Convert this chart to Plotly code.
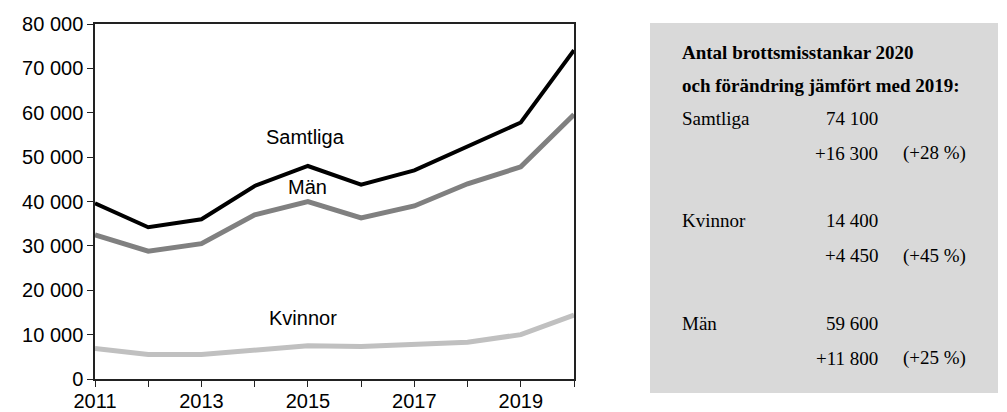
import plotly.graph_objects as go

# Data
years = [2011, 2012, 2013, 2014, 2015, 2016, 2017, 2018, 2019, 2020]
samtliga = [39600, 34200, 36000, 43500, 48000, 43800, 47000, 52300, 57800, 74100]
man = [32500, 28800, 30500, 37000, 40000, 36300, 39000, 44000, 47800, 59600]
kvinnor = [6900, 5500, 5500, 6400, 7500, 7300, 7800, 8300, 10000, 14400]

y_tickvals = [0, 10000, 20000, 30000, 40000, 50000, 60000, 70000, 80000]
y_ticktext = ["0", "10 000", "20 000", "30 000", "40 000", "50 000", "60 000", "70 000", "80 000"]
x_ticktext = ["2011", "", "2013", "", "2015", "", "2017", "", "2019", ""]

box_title = ["Antal brottsmisstankar 2020", "och förändring jämfört med 2019:"]
box_groups = ["Samtliga", "Kvinnor", "Män"]
box_values = ["74 100", "14 400", "59 600"]
box_changes = ["+16 300", "+4 450", "+11 800"]
box_pct = ["(+28 %)", "(+45 %)", "(+25 %)"]

# the page body adds an 8px margin, so the figure is made smaller to fit the window
OFF = 8
W, H = 1007 - OFF, 412 - OFF
L, R, T, B = 95 - OFF, 574 - OFF, 24 - OFF, 379 - OFF


def px2paper(px, py):
    # px, py given in window pixels
    px, py = px - OFF, py - OFF
    return (px - L) / (R - L), (B - py) / (B - T)


fig = go.Figure()
fig.add_trace(go.Scatter(x=years, y=kvinnor, mode="lines", line=dict(color="#c0c0c0", width=5)))
fig.add_trace(go.Scatter(x=years, y=man, mode="lines", line=dict(color="#808080", width=5)))
fig.add_trace(go.Scatter(x=years, y=samtliga, mode="lines", line=dict(color="#000000", width=4)))

sans = dict(family="Liberation Sans, Arial", size=20, color="#000")
fig.add_annotation(x=2014.95, y=54500, text="Samtliga", showarrow=False, font=sans)
fig.add_annotation(x=2015.0, y=43300, text="Män", showarrow=False, font=sans)
fig.add_annotation(x=2014.9, y=13700, text="Kvinnor", showarrow=False, font=sans)

# grey info box
x0, y0 = px2paper(650, 23)
x1, y1 = px2paper(998, 393)
fig.add_shape(type="rect", xref="paper", yref="paper", x0=x0, y0=y1, x1=x1, y1=y0,
              fillcolor="#d9d9d9", line=dict(width=0), layer="below")

serif = dict(family="Liberation Serif, Times New Roman, serif", size=19, color="#000")
for i, line in enumerate(box_title):
    ax, ay = px2paper(680, 52 + 33 * i)
    fig.add_annotation(xref="paper", yref="paper", x=ax, y=ay, text="<b>" + line + "</b>",
                       showarrow=False, xanchor="left", yanchor="middle", font=serif)

for i, g in enumerate(box_groups):
    ry = 118 + 102.5 * i
    ax, ay = px2paper(680, ry)
    fig.add_annotation(xref="paper", yref="paper", x=ax, y=ay, text=g, showarrow=False,
                       xanchor="left", yanchor="middle", font=serif)
    ax, ay = px2paper(880, ry)
    fig.add_annotation(xref="paper", yref="paper", x=ax, y=ay, text=box_values[i], showarrow=False,
                       xanchor="right", yanchor="middle", font=serif)
    ax, ay = px2paper(880, ry + 35)
    fig.add_annotation(xref="paper", yref="paper", x=ax, y=ay, text=box_changes[i], showarrow=False,
                       xanchor="right", yanchor="middle", font=serif)
    ax, ay = px2paper(968, ry + 35)
    fig.add_annotation(xref="paper", yref="paper", x=ax, y=ay, text=box_pct[i], showarrow=False,
                       xanchor="right", yanchor="middle", font=serif)

fig.update_layout(
    width=W, height=H,
    margin=dict(l=L, r=W - R, t=T, b=H - B),
    plot_bgcolor="white", paper_bgcolor="white",
    showlegend=False,
    font=sans,
)
fig.update_xaxes(range=[2011, 2020], tickvals=years, ticktext=x_ticktext, automargin=False,
                 showgrid=False, zeroline=False, showline=True, linecolor="#222", linewidth=1.5,
                 mirror=True, ticks="outside", ticklen=6, tickcolor="#222", tickfont=sans,
                 ticklabelstandoff=-3)
fig.update_yaxes(range=[0, 80000], tickvals=y_tickvals, ticktext=y_ticktext, automargin=False,
                 showgrid=False, zeroline=False, showline=True, linecolor="#222", linewidth=1.5,
                 mirror=True, ticks="outside", ticklen=6, tickcolor="#222", tickfont=sans)

fig.write_html("out.html")
